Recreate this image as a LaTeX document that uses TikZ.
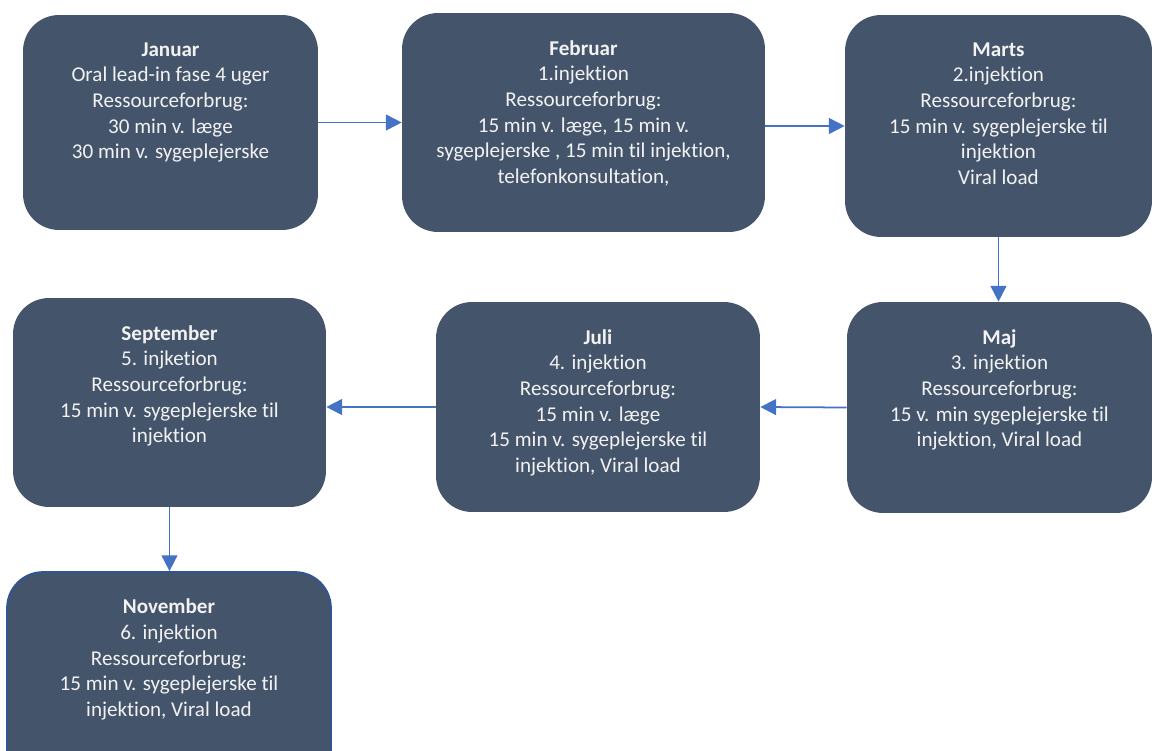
\documentclass[tikz,border=0pt]{standalone}
\usepackage{fontspec}
\setmainfont{Carlito}[Ligatures=NoCommon]
\usetikzlibrary{arrows.meta}
\definecolor{boxfill}{HTML}{44546A}
\definecolor{arrowblue}{HTML}{4472C4}
\definecolor{navyedge}{HTML}{2F5597}
\definecolor{lighttext}{HTML}{F2F2F2}

\begin{document}
\begin{tikzpicture}[x=0.02cm, y=-0.02cm,
    monthbox/.style={fill=boxfill, rounded corners=0.72cm, inner sep=0pt},
    monthtext/.style={anchor=north, align=center, text=lighttext, inner sep=0pt, font=\fontsize{12}{14.6}\selectfont},
    flow/.style={draw=arrowblue, line width=1pt, -{Triangle[length=9pt,width=9pt]}}]
				\useasboundingbox (0,0) rectangle (1154,751);
				\clip (0,0) rectangle (1154,751);
				
				\node[monthbox, minimum width=5.9cm, minimum height=4.3cm] (jan) at (170.5,122.5) {};
				\node[monthtext] (jantext) at ([yshift=-0.55cm]jan.north) {\textbf{Januar}\\Oral lead-in fase 4 uger\\Ressourceforbrug:\\30 min v. læge\\30 min v. sygeplejerske};
				
				\node[monthbox, minimum width=7.26cm, minimum height=4.38cm] (feb) at (583.5,122.5) {};
				\node[monthtext] (febtext) at ([yshift=-0.55cm]feb.north) {\textbf{Februar}\\1.injektion\\Ressourceforbrug:\\15 min v. læge, 15 min v.\\sygeplejerske , 15 min til injektion,\\telefonkonsultation,};
				
				\node[monthbox, minimum width=6.14cm, minimum height=4.44cm] (marts) at (998.5,126) {};
				\node[monthtext] (martstext) at ([yshift=-0.55cm]marts.north) {\textbf{Marts}\\2.injektion\\Ressourceforbrug:\\15 min v. sygeplejerske til\\injektion\\Viral load};
				
				\node[monthbox, minimum width=6.1cm, minimum height=4.22cm] (maj) at (999.5,407.5) {};
				\node[monthtext] (majtext) at ([yshift=-0.55cm]maj.north) {\textbf{Maj}\\3. injektion\\Ressourceforbrug:\\15 v. min sygeplejerske til\\injektion, Viral load};
				
				\node[monthbox, minimum width=6.48cm, minimum height=4.2cm] (juli) at (598,407) {};
				\node[monthtext] (julitext) at ([yshift=-0.55cm]juli.north) {\textbf{Juli}\\4. injektion\\Ressourceforbrug:\\15 min v. læge\\15 min v. sygeplejerske til\\injektion, Viral load};
				
				\node[monthbox, minimum width=6.26cm, minimum height=4.18cm] (sept) at (169.5,402.5) {};
				\node[monthtext] (septtext) at ([yshift=-0.55cm]sept.north) {\textbf{September}\\5. injketion\\Ressourceforbrug:\\15 min v. sygeplejerske til\\injektion};
				
				\node[monthbox, draw=navyedge, line width=1pt, minimum width=6.48cm, minimum height=4.3cm] (nov) at (169,679.5) {};
				\node[monthtext] (novtext) at ([yshift=-0.55cm]nov.north) {\textbf{November}\\6. injektion\\Ressourceforbrug:\\15 min v. sygeplejerske til\\injektion, Viral load};
				
				\draw[flow] (jan.east) -- (feb.west);
				\draw[flow] (feb.east |- marts) -- (marts.west);
				\draw[flow] (marts.south) -- (marts.south |- maj.north);
				\draw[flow] (maj.west) -- (juli.east);
				\draw[flow] (juli.west) -- (juli.west -| sept.east);
				\draw[flow] (sept.south) -- (sept.south |- nov.north);
			\end{tikzpicture}
\end{document}
